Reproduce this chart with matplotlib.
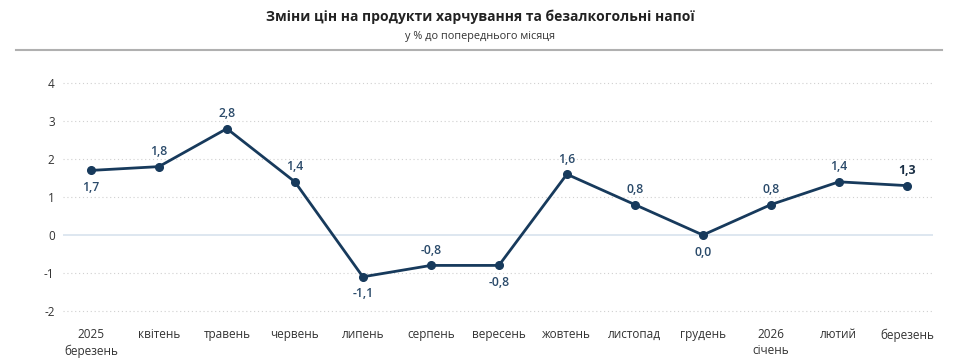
import matplotlib
matplotlib.use("Agg")
import matplotlib.pyplot as plt

plt.rcParams["font.family"] = ["Open Sans", "DejaVu Sans"]

# ── Data ──────────────────────────────────────────────────────────────────────
months = ["2025\nберезень", "квітень", "травень", "червень", "липень", "серпень",
          "вересень", "жовтень", "листопад", "грудень", "2026\nсічень", "лютий",
          "березень"]
values = [1.7, 1.8, 2.8, 1.4, -1.1, -0.8, -0.8, 1.6, 0.8, 0.0, 0.8, 1.4, 1.3]
label_below = [True, False, False, False, True, False, True, False, False, True,
               False, False, False]
yticks = [-2, -1, 0, 1, 2, 3, 4]

LINE = "#173a5c"
TEXT = "#333333"

fig = plt.figure(figsize=(9.6, 3.59), dpi=100)
ax = fig.add_axes([0.0656, 0.1125, 0.906, 0.6774])

xs = list(range(len(values)))
ax.plot(xs, values, color=LINE, linewidth=2.0, marker="o", markersize=5.5,
        zorder=5)

for i, (x, v) in enumerate(zip(xs, values)):
    txt = f"{v:.1f}".replace(".", ",")
    last = i == len(values) - 1
    off = -17 if label_below[i] else 6
    ax.annotate(txt, (x, v), xytext=(0, off), textcoords="offset points",
                ha="center", va="bottom", fontsize=8.8,
                color="#1a2f45" if last else "#2a4a6a",
                fontweight="bold" if last else "semibold")

# grid
for t in yticks:
    if t == 0:
        ax.axhline(0, color="#d8e3ed", linewidth=1.2, zorder=1)
    else:
        ax.axhline(t, color="#d0d0d0", linewidth=0.8, linestyle=(0, (1, 2.5)),
                   zorder=1)

ax.set_xlim(-0.41, 12.38)
ax.set_ylim(-2.2, 4.2)
ax.set_yticks(yticks)
ax.set_yticklabels([str(t) for t in yticks])
ax.set_xticks(xs)
ax.set_xticklabels(months, linespacing=1.3)
ax.tick_params(axis="both", length=0, labelsize=8.5, labelcolor=TEXT)
ax.tick_params(axis="y", pad=6)
ax.tick_params(axis="x", pad=7)
for s in ax.spines.values():
    s.set_visible(False)

fig.text(0.5, 1 - 17 / 359, "Зміни цін на продукти харчування та безалкогольні напої",
         ha="center", va="center", fontsize=10, fontweight="bold", color="#222222")
fig.text(0.5, 1 - 37 / 359, "у % до попереднього місяця",
         ha="center", va="center", fontsize=7.8, color="#333333")
fig.add_artist(plt.Line2D([16 / 960, 942 / 960], [1 - 50 / 359, 1 - 50 / 359],
                          color="#b0b0b0", linewidth=1.5))

fig.savefig("out.png", dpi=100, facecolor="white")
